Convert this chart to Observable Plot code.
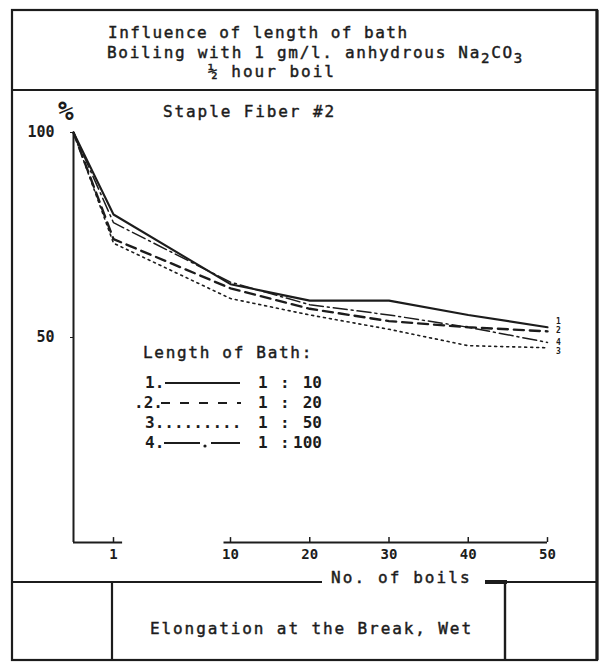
<!DOCTYPE html>
<html>
<head>
<meta charset="utf-8">
<script src="https://cdn.jsdelivr.net/npm/d3@7"></script>
<script src="https://cdn.jsdelivr.net/npm/@observablehq/plot@0.6"></script>
<style>
  html, body { margin: 0; padding: 0; background: #fff; }
  #wrap { position: relative; width: 605px; height: 662px; overflow: hidden; background: #fff; }
  #wrap svg { position: absolute; left: 0; top: 0; }
</style>
</head>
<body>
<div id="wrap"></div>
<script>
// ---- data ----
const boils = [0, 1, 10, 20, 30, 40, 50];
const bath1_10  = [100, 80, 63, 59, 59, 55.5, 52.5];
const bath1_20  = [100, 74, 62, 57, 54, 52.5, 51.5];
const bath1_50  = [100, 73, 59.5, 55.5, 52, 48, 47.5];
const bath1_100 = [100, 78, 63.5, 58, 55.5, 52.5, 48.8];
const seriesNames = ["1 : 10", "1 : 20", "1 : 50", "1 :100"];
const xBreaks = [0, 1, 10, 50];
const xTicks = [1, 10, 20, 30, 40, 50];
const xTickLabels = ["1", "10", "20", "30", "40", "50"];
const yTicks = [50, 100];
const xAxisSegments = [{from: 0, to: 1.7}, {from: 9.5, to: 50}];

const titleLines = ["Influence of length of bath", "Boiling with 1 gm/l. anhydrous Na", "½ hour boil"];
const subtitle = "Staple Fiber #2";
const legendTitle = "Length of Bath:";
const xLabel = "No. of boils";
const caption = "Elongation at the Break, Wet";

// ---- tidy table ----
const allSeries = [bath1_10, bath1_20, bath1_50, bath1_100];
const table = [];
allSeries.forEach((vals, i) => vals.forEach((v, j) => table.push({series: seriesNames[i], boils: boils[j], pct: v})));
const pick = name => table.filter(d => d.series === name);

const ink = "#1c1c1c";
const mono = "DejaVu Sans Mono, Liberation Mono, monospace";

const plot = Plot.plot({
  width: 605,
  height: 662,
  marginLeft: 73,
  marginRight: 58,
  marginTop: 132,
  marginBottom: 120,
  style: {fontFamily: mono, fontSize: "14px", fontWeight: "bold", color: ink, background: "transparent", overflow: "visible"},
  x: {type: "linear", domain: xBreaks, range: [73, 113, 230, 547]},
  y: {domain: [0, 100]},
  marks: [
    Plot.axisY({ticks: yTicks, tickSize: 3, tickPadding: 16, label: null, fontSize: 15, stroke: ink}),
    Plot.axisX({ticks: xTicks, tickFormat: (d) => xTickLabels[xTicks.indexOf(d)], tickSize: 0, tickPadding: 7, label: null, fontSize: 14}),
    Plot.ruleX([0], {y1: 0, y2: 100, stroke: ink, strokeWidth: 2}),
    Plot.ruleY(xAxisSegments, {y: 0, x1: "from", x2: "to", stroke: ink, strokeWidth: 2}),
    Plot.ruleX(xTicks, {x: d => d, y1: 0, y2: 1.2, stroke: ink, strokeWidth: 1.5}),
    Plot.line(pick(seriesNames[0]), {x: "boils", y: "pct", stroke: ink, strokeWidth: 2.1}),
    Plot.line(pick(seriesNames[1]), {x: "boils", y: "pct", stroke: ink, strokeWidth: 2.4, strokeDasharray: "10,6"}),
    Plot.line(pick(seriesNames[2]), {x: "boils", y: "pct", stroke: ink, strokeWidth: 1.6, strokeDasharray: "2,4"}),
    Plot.line(pick(seriesNames[3]), {x: "boils", y: "pct", stroke: ink, strokeWidth: 1.5, strokeDasharray: "14,4,2,4"})
  ]
});

const wrap = document.getElementById("wrap");
wrap.appendChild(plot);

// ---- overlay: frame, titles, legend, caption ----
const svg = d3.select(wrap).append("svg").attr("width", 605).attr("height", 662)
  .style("font-family", mono).style("fill", ink);

const line = (x1, y1, x2, y2, w) => svg.append("line").attr("x1", x1).attr("y1", y1).attr("x2", x2).attr("y2", y2)
  .attr("stroke", ink).attr("stroke-width", w || 2);

// frame
svg.append("rect").attr("x", 12).attr("y", 10).attr("width", 585).attr("height", 650)
  .attr("fill", "none").attr("stroke", ink).attr("stroke-width", 2.2);
line(597, 10, 597, 660, 3.2);
line(12, 90, 597, 90, 2.2);
line(12, 582, 322, 582, 2.2);
line(485, 582, 597, 582, 2.2);
line(485, 582, 507, 582, 4);
line(112, 582, 112, 660, 2.2);
line(505, 582, 505, 660, 2.4);

const txt = (x, y, s, opts = {}) => svg.append("text").attr("x", x).attr("y", y)
  .attr("font-size", opts.size || 16).attr("letter-spacing", opts.ls == null ? 1.7 : opts.ls)
  .attr("font-weight", opts.weight || "normal").attr("text-anchor", opts.anchor || "start")
  .attr("font-style", opts.style || "normal")
  .attr("stroke", opts.weight === "bold" ? "none" : ink).attr("stroke-width", 0.45)
  .text(s);

// titles
txt(108, 38, titleLines[0], {ls: 1.5});
const t2 = txt(107, 58, titleLines[1], {ls: 1.7});
t2.append("tspan").attr("dy", 5).attr("font-size", 14).text("2");
t2.append("tspan").attr("dy", -5).text("CO");
t2.append("tspan").attr("dy", 5).attr("font-size", 14).text("3");
txt(208, 77, titleLines[2], {ls: 2});

// plot header
txt(58, 120, "%", {size: 26, weight: "bold", style: "italic", ls: 0});
txt(163, 117, subtitle, {ls: 1.9});

// legend
txt(143, 358, legendTitle, {ls: 1.7});
const rowY = [383, 403, 423, 443];
txt(145, rowY[0] + 5, "1.", {weight: "bold", ls: 0});
line(165, rowY[0], 240, rowY[0], 2);
txt(134, rowY[1] + 5, ".2.", {weight: "bold", ls: 0});
svg.append("line").attr("x1", 161).attr("x2", 241).attr("y1", rowY[1]).attr("y2", rowY[1])
  .attr("stroke", ink).attr("stroke-width", 2).attr("stroke-dasharray", "9,10");
txt(145, rowY[2] + 5, "3.........", {weight: "bold", ls: 0});
txt(145, rowY[3] + 5, "4.", {weight: "bold", ls: 0});
line(164, rowY[3], 200, rowY[3], 2);
svg.append("circle").attr("cx", 205).attr("cy", rowY[3] + 3).attr("r", 1.6).attr("fill", ink);
line(211, rowY[3], 240, rowY[3], 2);
seriesNames.forEach((name, i) => {
  const parts = name.split(":");
  txt(258, rowY[i] + 5, parts[0].trim(), {weight: "bold", ls: 0});
  txt(280, rowY[i] + 5, ":", {weight: "bold", ls: 0});
  txt(322, rowY[i] + 5, parts[1].trim(), {weight: "bold", ls: 0, anchor: "end"});
});

// end labels
const endLabels = ["1", "2", "4", "3"];
const endY = [324, 333, 345, 354];
endLabels.forEach((s, i) => txt(556, endY[i], s, {size: 8, weight: "bold", ls: 0}));

// x label and caption
txt(331, 583, xLabel, {ls: 2.1});
txt(150, 634, caption, {ls: 1.9});
</script>
</body>
</html>
